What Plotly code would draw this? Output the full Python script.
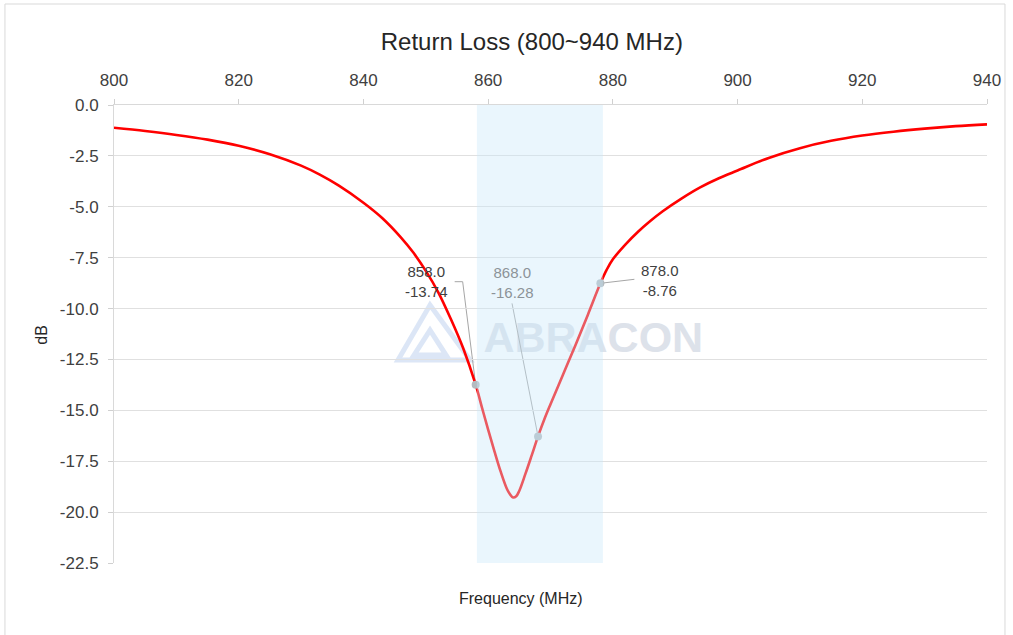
import plotly.graph_objects as go

# ---- data ----
freq_mhz = [800, 805, 810, 815, 820, 825, 830, 833, 836, 840, 843, 846, 848, 850, 852,
            854, 856, 858, 859, 860, 861, 862, 863, 863.5, 864, 864.5, 865, 866, 867, 868,
            869, 870, 872, 874, 876, 878, 879, 880, 882, 884, 886, 888, 891, 894, 897,
            900, 905, 910, 915, 920, 925, 930, 935, 940]
return_loss_db = [-1.12, -1.28, -1.47, -1.70, -2.00, -2.42, -2.98, -3.42, -3.95, -4.80,
                  -5.55, -6.50, -7.25, -8.15, -9.20, -10.50, -11.95, -13.74, -14.85,
                  -15.95, -17.00, -18.00, -18.85, -19.12, -19.28, -19.22, -18.95, -18.10,
                  -17.20, -16.28, -15.45, -14.70, -13.25, -11.80, -10.30, -8.76, -8.10,
                  -7.58, -6.86, -6.24, -5.70, -5.22, -4.60, -4.05, -3.60, -3.22, -2.60,
                  -2.12, -1.76, -1.50, -1.31, -1.16, -1.04, -0.95]

marker_freq = [858.0, 868.0, 878.0]
marker_db = [-13.74, -16.28, -8.76]
marker_labels = [f"{f:.1f}<br>{d:.2f}" for f, d in zip(marker_freq, marker_db)]

band_mhz = [858.2, 878.4]

x_ticks = [800, 820, 840, 860, 880, 900, 920, 940]
y_ticks = [0.0, -2.5, -5.0, -7.5, -10.0, -12.5, -15.0, -17.5, -20.0, -22.5]
y_tick_labels = [f"{v:.1f}" for v in y_ticks]

title_text = "Return Loss (800~940 MHz)"
x_title = "Frequency (MHz)"
y_title = "dB"
watermark = "ABRACON"

FONT = "Liberation Sans, Arial, sans-serif"

fig = go.Figure()
fig.add_trace(go.Scatter(
    x=freq_mhz, y=return_loss_db, mode="lines",
    line=dict(color="#FF0000", width=2.6, shape="spline", smoothing=1.0),
    hoverinfo="x+y"))
fig.add_trace(go.Scatter(
    x=marker_freq, y=marker_db, mode="markers",
    marker=dict(size=8, color="#b3bbc0"), hoverinfo="x+y"))

shapes = []
# highlighted band (drawn above with transparency)
shapes.append(dict(type="rect", xref="x", yref="paper", x0=band_mhz[0], x1=band_mhz[1],
                   y0=0, y1=1, fillcolor="rgba(201,231,250,0.39)", line=dict(width=0),
                   layer="above"))
# leader lines (pixel offsets from each marker)
leader_paths = ["M0,0 L-13,103 L-21,103", "M0,0 L-26,133", "M0,0 L34,4"]
for f, d, p in zip(marker_freq, marker_db, leader_paths):
    shapes.append(dict(type="path", xref="x", yref="y", xsizemode="pixel", ysizemode="pixel",
                       xanchor=f, yanchor=d, path=p, line=dict(color="#a6a6a6", width=1),
                       layer="below"))
# watermark logo
shapes.append(dict(type="path", xref="paper", yref="paper", xsizemode="pixel", ysizemode="pixel",
                   xanchor=0.362, yanchor=0.502,
                   path="M-32,-27 L0,28 L40,-27 Z M-16,-22 L0,3 L16,-22 Z",
                   line=dict(color="rgba(196,214,240,0.6)", width=5), layer="below"))
# watermark text
shapes.append(dict(type="rect", xref="paper", yref="paper", x0=0.415, x1=0.683, y0=0.465, y1=0.54,
                   line=dict(width=0), fillcolor="rgba(0,0,0,0)", layer="below",
                   label=dict(text=watermark, textposition="middle center",
                              font=dict(family=FONT, size=43, color="#dde2ea", weight="bold"))))
# outer frame
shapes.append(dict(type="rect", xref="paper", yref="paper", x0=-0.1249, x1=1.0206,
                   y0=-0.25, y1=1.2205, line=dict(color="#d9d9d9", width=1), layer="below"))

annotations = []
label_shifts = [(-49, 103), (-26, 154), (60, 3)]
label_colors = ["#404040", "#8c9398", "#404040"]
for f, d, t, (dx, dy), c in zip(marker_freq, marker_db, marker_labels, label_shifts, label_colors):
    annotations.append(dict(x=f, y=d, xref="x", yref="y", text=t, showarrow=False,
                            xshift=dx, yshift=dy, font=dict(family=FONT, size=15, color=c),
                            align="center", xanchor="center", yanchor="middle"))
annotations.append(dict(x=0.466, y=-0.077, xref="paper", yref="paper", text=x_title,
                        showarrow=False, xanchor="center", yanchor="middle",
                        font=dict(family=FONT, size=16, color="#262626")))
annotations.append(dict(x=-0.083, y=0.4975, xref="paper", yref="paper", text=y_title,
                        showarrow=False, textangle=-90, xanchor="center", yanchor="middle",
                        font=dict(family=FONT, size=16, color="#262626")))

fig.update_layout(
    width=1013, height=635,
    margin=dict(l=114, r=26, t=105, b=72),
    paper_bgcolor="white", plot_bgcolor="white",
    showlegend=False,
    title=dict(text=title_text, x=0.525, y=0.934, xanchor="center", yanchor="middle",
               font=dict(family=FONT, size=24, color="#262626")),
    xaxis=dict(range=[800, 940], side="top", tickvals=x_ticks, ticks="outside", ticklen=5,
               tickcolor="#d0d0d0", showline=True, linecolor="#d9d9d9", linewidth=1,
               showgrid=False, zeroline=False, ticklabelstandoff=6,
               tickfont=dict(family=FONT, size=17, color="#404040")),
    yaxis=dict(range=[-22.5, 0], tickvals=y_ticks, ticktext=y_tick_labels, ticks="outside",
               ticklen=5, tickcolor="#d0d0d0", showline=True, linecolor="#d9d9d9", linewidth=1,
               showgrid=True, gridcolor="#e0e0e0", gridwidth=1.3, zeroline=False,
               ticklabelstandoff=6,
               tickfont=dict(family=FONT, size=17, color="#404040")),
    shapes=shapes,
    annotations=annotations,
)

fig.write_html("out.html", config={"displayModeBar": False},
               post_script="document.body.style.margin='0px';")
